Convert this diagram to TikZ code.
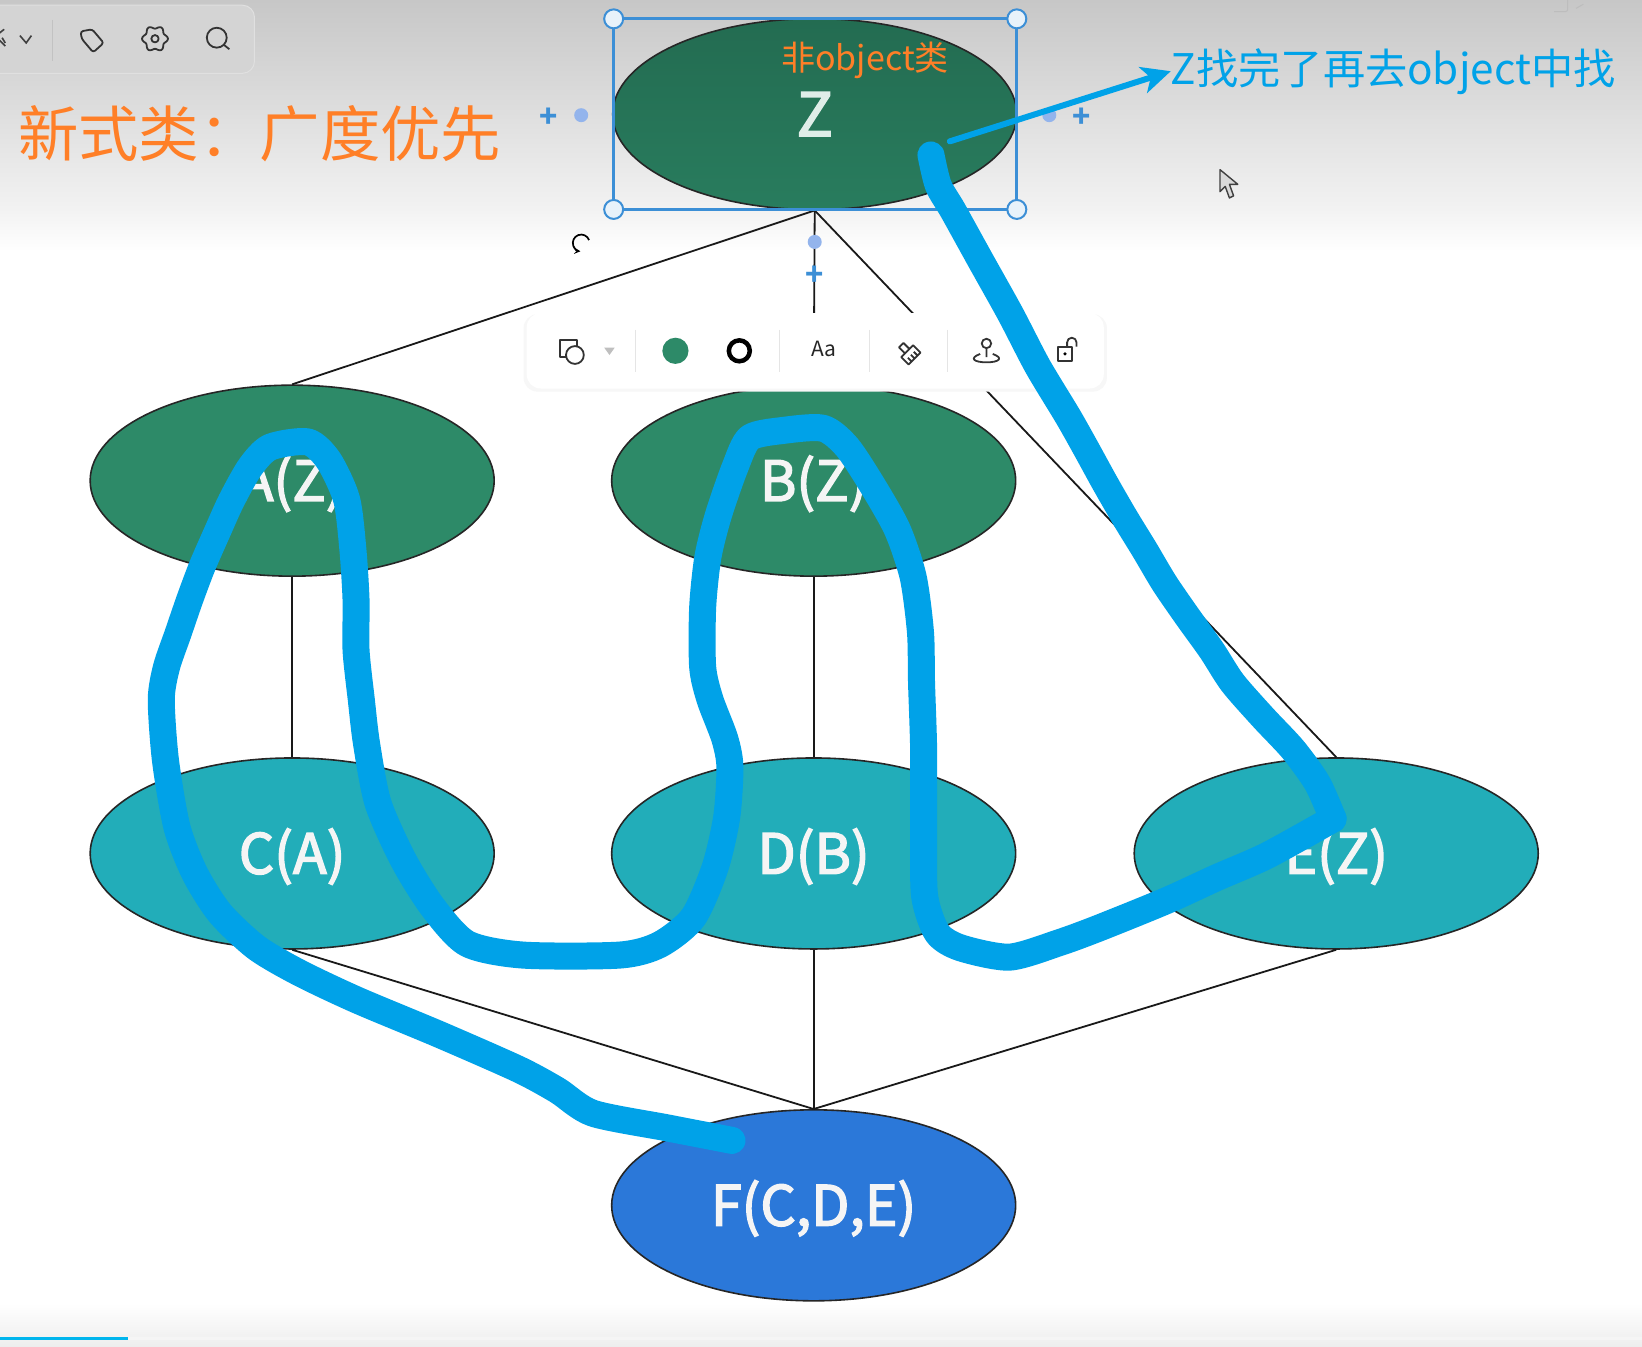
\documentclass[tikz,border=0pt]{standalone}
\usepackage{fontspec}
\setmainfont{Noto Sans CJK SC}
\newfontfamily\classfont[FakeBold=2.6]{Noto Sans CJK SC}
\usetikzlibrary{shapes.geometric,arrows.meta}
\definecolor{strokeblue}{HTML}{00A2E8}
\definecolor{notegreen}{HTML}{2D8A68}
\definecolor{noteteal}{HTML}{22ADB9}
\definecolor{noteblue}{HTML}{2B78D9}
\definecolor{noteorange}{HTML}{FF7F27}
\definecolor{selblue}{HTML}{3C8FD6}
\definecolor{dotblue}{HTML}{93B4EC}
\tikzset{
  classnode/.style={ellipse,draw=black!85,line width=1.6pt,minimum width=404pt,minimum height=191pt,inner sep=0pt,text=white!96!black,text height=52.6pt,text depth=12pt,font=\classfont\fontsize{55.5}{55.5}\selectfont},
  handle/.style={circle,draw=selblue,line width=2pt,fill=white!88!selblue,inner sep=0pt,minimum size=19pt},
  seldot/.style={circle,fill=dotblue,inner sep=0pt,minimum size=14pt},
  selplus/.style={text=selblue,font=\fontsize{30}{30}\selectfont\bfseries,inner sep=0pt},
  barsep/.style={black!10,line width=1pt},
  icon/.style={black!80,line width=1.8pt,line join=round},
  searchline/.style={strokeblue,line width=27pt,line cap=round,line join=round}
}
\begin{document}
\begin{tikzpicture}[x=1.0472pt,y=-1.0472pt]
        \useasboundingbox (0,0) rectangle (1568,1286);
        % window shading at the top and the bottom
        \fill[white] (0,0) rectangle (1568,1286);
        \shade[top color=black!22,bottom color=black!5] (0,0) rectangle (1568,200);
        \shade[top color=black!5,bottom color=white] (0,200) rectangle (1568,240);
        \shade[top color=white,bottom color=black!7] (0,1245) rectangle (1568,1286);
        \fill[black!4] (122,1277) rectangle (1568,1280);
        \fill[strokeblue!80!cyan] (0,1277) rectangle (122,1280);
        \draw[black!26,line width=1pt,rounded corners=2pt](1484,11)--(1497,11)--(1497,0)(1505,8)--(1512,4);
        % class nodes
        \node[classnode,top color=notegreen!78!black,bottom color=notegreen!90!black,text height=44pt,text depth=0pt,font=\classfont\fontsize{60}{60}\selectfont,text=white!85!notegreen](z)at(778,109){Z};
        \node[classnode,fill=notegreen](a)at(279,459){A(Z)};
        \node[classnode,fill=notegreen](b)at(777,459){B(Z)};
        \node[classnode,fill=noteteal](c)at(279,815){C(A)};
        \node[classnode,fill=noteteal](d)at(777,815){D(B)};
        \node[classnode,fill=noteteal](e)at(1276,815){E(Z)};
        \node[classnode,fill=noteblue](f)at(777,1151){F(C,D,E)};
        % inheritance lines
        \foreach \p/\q in {z/a,z/b,z/e,a/c,b/d,c/f,d/f,e/f} \draw[line width=1.8pt,black!90](\p.south)--(\q.north);
        % selection frame round Z
        \draw[selblue,line width=2.8pt](586,18)rectangle(971,200);
        \node[handle](h1)at(586,18){};
        \node[handle](h2)at(971,18){};
        \node[handle](h3)at(586,200){};
        \node[handle](h4)at(971,200){};
        \node[seldot](d1)at(555,110){};
        \node[seldot](d2)at(1002,110){};
        \node[seldot](d3)at(778,231){};
        \node[selplus](p1)at(524,112){+};
        \node[selplus](p2)at(1033,112){+};
        \node[selplus](p3)at(778,263){+};
        \draw[-stealth,black,line width=1.7pt](555,232)++(-20:8)arc(-20:-265:8);
        % floating toolbar
        \fill[black!3,rounded corners=14pt](500,300)rectangle(1057,374);
        \fill[white,rounded corners=14pt](503,299)rectangle(1054,371);
        \foreach \x in {607,744,830,905} \draw[barsep](\x,315)--(\x,355);
        \draw[icon](535,325)rectangle(551,341);
        \draw[icon,fill=white](549,339)circle(8.5);
        \fill[black!25](577,332)--(587,332)--(582,339)--cycle;
        \fill[notegreen](645,335)circle(12.5);
        \draw[black,line width=4.5pt](706,335)circle(10);
        \node[font=\fontsize{21}{21}\selectfont,text=black!85,inner sep=0pt](aa)at(787,333){Aa};
        \draw[icon,rotate around={-135:(867,336)}](859,327)rectangle(875,337)(864,337)--(864,345)--(870,345)--(870,337)(863,327)--(863,332)(867,327)--(867,332)(871,327)--(871,332);
        \draw[icon](942,328)circle(4.5)(942,333)--(942,341);
        \draw[icon](936,338)..controls(925,342)and(930,346)..(942,346)..controls(954,346)and(959,342)..(948,338);
        \draw[icon](1010,331)rectangle(1024,345);
        \fill[black](1017,338)circle(1.7);
        \draw[icon](1019,331)--(1019,327)arc(180:360:4.5)--(1028,331);
        % top left toolbar
        \fill[black!17,rounded corners=12pt](-30,5)rectangle(243,70);
        \draw[black!12,line width=1pt,rounded corners=12pt](-30,5)rectangle(243,70);
        \draw[barsep,black!24](50,19)--(50,58);
        \draw[black!75,line width=1.6pt](-1,32)--(4,28)(-1,38)--(5,44)(2,36)--(5,41);
        \draw[black!75,line width=1.6pt](19,34)--(25,41)--(30,34);
        \draw[icon,rounded corners=2.5pt](77,30)--(88,28)--(99,41)--(89,50)--(78,37)--cycle;
        \draw[icon]plot[smooth cycle,samples=48,domain=0:352.5]({148+(11+1.4*cos(6*\x))*cos(\x)},{37+(11+1.4*cos(6*\x))*sin(\x)});
        \draw[icon](148,37)circle(3.5);
        \draw[icon](207,36)circle(9.5)(214,43)--(219,47);
        % mouse pointer
        \draw[black!75,fill=white!85!black,line width=1.4pt,line join=round](1165,162)--(1165,183)--(1170,178)--(1174,189)--(1178,187)--(1174,176)--(1182,176)--cycle;
        % labels
        \node[text=noteorange,font=\fontsize{60.4}{60.4}\selectfont,inner sep=0pt,anchor=west](title)at(17,128){新式类：广度优先};
        \node[text=noteorange,font=\fontsize{34}{34}\selectfont,inner sep=0pt](nonobj)at(826,58){非object类};
        \node[text=strokeblue,font=\fontsize{42.2}{42.2}\selectfont,inner sep=0pt,anchor=west](zdone)at(1118,68){Z找完了再去object中找};
        % search order
        \draw[searchline]plot[smooth,tension=.45]coordinates{(699,1089)(637,1077)(566,1063)(532,1041)(495,1021)(420,988)(341,955)(286,929)(245,905)(210,872)(186,834)(169,790)(158,726)(154,668)(159,637)(170,605)(181,573)(193,541)(207,509)(221,478)(239,446)(258,427)(294,422)(314,440)(331,477)(337,525)(340,573)(340,621)(345,668)(350,710)(361,767)(385,821)(413,866)(446,901)(499,912)(592,912)(630,902)(662,876)(683,828)(694,780)(697,732)(692,705)(678,668)(671,637)(671,580)(676,532)(686,492)(702,446)(716,418)(748,411)(786,409)(809,427)(834,465)(857,506)(872,551)(879,604)(880,652)(882,716)(882,796)(883,856)(895,891)(917,905)(964,914)(1012,900)(1050,886)(1114,860)(1162,838)(1210,817)(1273,782)};
        \draw[searchline]plot[smooth,tension=.45]coordinates{(1273,782)(1258,748)(1235,716)(1206,685)(1177,652)(1157,621)(1134,589)(1112,557)(1093,525)(1074,494)(1055,461)(1038,430)(1020,398)(991,350)(965,300)(936,248)(910,201)(896,177)(889,148)};
        \coordinate(arrowstart)at(907,135);
        \draw[-{Stealth[length=29pt,width=27pt,inset=8pt]},strokeblue,line width=6pt,line cap=round](arrowstart)--(zdone.west);
    \end{tikzpicture}
\end{document}
